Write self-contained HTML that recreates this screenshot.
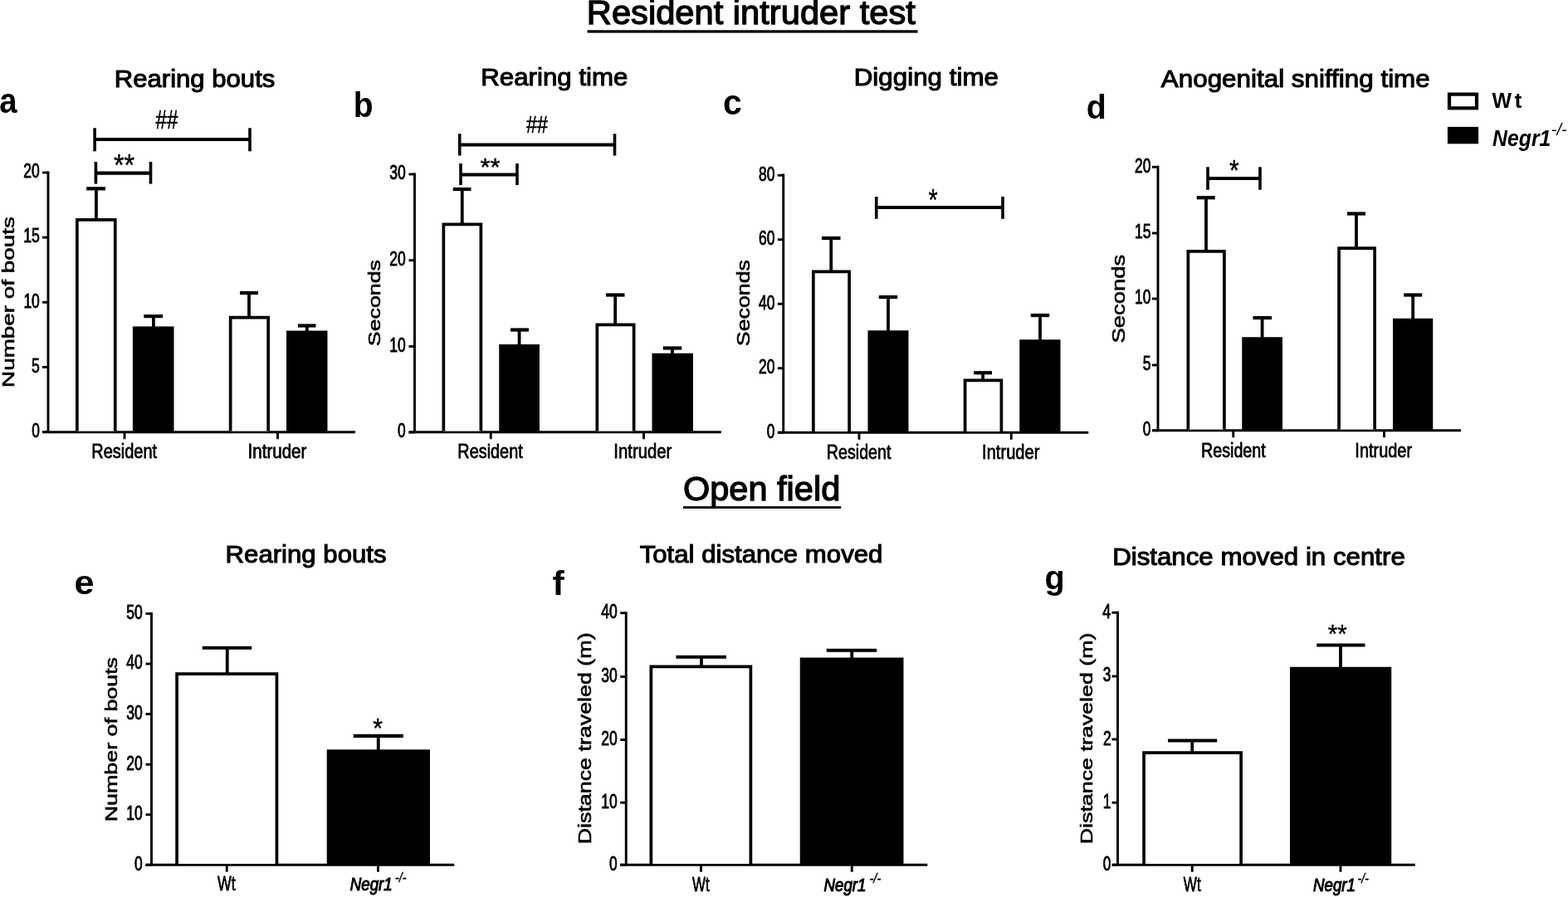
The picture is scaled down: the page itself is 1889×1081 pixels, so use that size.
<!DOCTYPE html>
<html><head><meta charset="utf-8"><title>Resident intruder test / Open field</title>
<style>
html,body{margin:0;padding:0;background:#fff;}
body{width:1889px;height:1081px;overflow:hidden;}
svg{display:block;}
text{font-family:"Liberation Sans",Arial,sans-serif;fill:#000;}
line{stroke:#000;stroke-linecap:butt;}
</style></head><body>
<svg width="1889" height="1081" viewBox="0 0 1889 1081">
<rect width="1889" height="1081" fill="#fff"/>
<text transform="translate(706.82,29.25) scale(1.0389,1)" font-size="40.12" font-weight="normal" font-style="normal" stroke="#000" stroke-width="1.3">Resident intruder test</text>
<rect x="707.60" y="36.30" width="398.00" height="3.30" fill="#000"/>
<text transform="translate(822.98,603.15) scale(1.0168,1)" font-size="40.84" font-weight="normal" font-style="normal" stroke="#000" stroke-width="1.3">Open field</text>
<rect x="822.90" y="610.10" width="190.30" height="2.80" fill="#000"/>
<text transform="translate(137.76,105.05) scale(1.0237,1)" font-size="30.38" font-weight="normal" font-style="normal" stroke="#000" stroke-width="1.1">Rearing bouts</text>
<text transform="translate(-0.65,135.67) scale(0.9006,1)" font-size="42.55" font-weight="bold" font-style="normal">a</text>
<line x1="58.00" y1="206.55" x2="58.00" y2="520.75" stroke-width="2.9"/>
<line x1="51.00" y1="208.00" x2="58.00" y2="208.00" stroke-width="2.9"/>
<text transform="translate(28.35,214.27) scale(0.7478,1)" font-size="23.38" font-weight="normal" font-style="normal" stroke="#000" stroke-width="0.9">20</text>
<line x1="51.00" y1="286.10" x2="58.00" y2="286.10" stroke-width="2.9"/>
<text transform="translate(28.19,292.36) scale(0.7472,1)" font-size="23.71" font-weight="normal" font-style="normal" stroke="#000" stroke-width="0.9">15</text>
<line x1="51.00" y1="364.30" x2="58.00" y2="364.30" stroke-width="2.9"/>
<text transform="translate(28.38,370.57) scale(0.7469,1)" font-size="23.38" font-weight="normal" font-style="normal" stroke="#000" stroke-width="0.9">10</text>
<line x1="51.00" y1="442.40" x2="58.00" y2="442.40" stroke-width="2.9"/>
<text transform="translate(38.08,448.66) scale(0.7424,1)" font-size="23.71" font-weight="normal" font-style="normal" stroke="#000" stroke-width="0.9">5</text>
<line x1="51.00" y1="520.50" x2="58.00" y2="520.50" stroke-width="2.9"/>
<text transform="translate(38.13,526.77) scale(0.7421,1)" font-size="23.38" font-weight="normal" font-style="normal" stroke="#000" stroke-width="0.9">0</text>
<line x1="51.00" y1="520.75" x2="428.00" y2="520.75" stroke-width="2.9"/>
<line x1="150.00" y1="520.75" x2="150.00" y2="529.25" stroke-width="2.9"/>
<line x1="334.50" y1="520.75" x2="334.50" y2="529.25" stroke-width="2.9"/>
<path d="M92.85,519.50V264.85H138.75V519.50" fill="#fff" stroke="#000" stroke-width="3.7" stroke-linejoin="miter"/>
<rect x="159.90" y="393.40" width="49.60" height="127.35" fill="#000"/>
<path d="M277.65,519.50V382.65H323.15V519.50" fill="#fff" stroke="#000" stroke-width="3.7" stroke-linejoin="miter"/>
<rect x="345.00" y="398.50" width="49.50" height="122.25" fill="#000"/>
<line x1="115.90" y1="264.00" x2="115.90" y2="227.30" stroke-width="3.8"/>
<line x1="104.10" y1="227.30" x2="127.00" y2="227.30" stroke-width="4.2"/>
<line x1="184.90" y1="394.40" x2="184.90" y2="381.10" stroke-width="3.8"/>
<line x1="173.30" y1="381.10" x2="196.10" y2="381.10" stroke-width="4.2"/>
<line x1="300.00" y1="381.80" x2="300.00" y2="353.00" stroke-width="3.8"/>
<line x1="289.00" y1="353.00" x2="311.00" y2="353.00" stroke-width="4.2"/>
<line x1="369.80" y1="399.50" x2="369.80" y2="392.50" stroke-width="3.8"/>
<line x1="359.00" y1="392.50" x2="380.50" y2="392.50" stroke-width="4.2"/>
<line x1="114.10" y1="168.00" x2="301.00" y2="168.00" stroke-width="4.2"/>
<line x1="114.10" y1="154.30" x2="114.10" y2="182.30" stroke-width="3.6"/>
<line x1="301.00" y1="154.30" x2="301.00" y2="182.30" stroke-width="3.6"/>
<line x1="115.40" y1="208.70" x2="181.50" y2="208.70" stroke-width="4.2"/>
<line x1="115.40" y1="195.00" x2="115.40" y2="221.60" stroke-width="3.6"/>
<line x1="181.50" y1="195.00" x2="181.50" y2="221.60" stroke-width="3.6"/>
<text transform="translate(187.53,154.75) scale(0.7784,1)" font-size="30.95" font-weight="normal" font-style="normal" stroke="#000" stroke-width="0.5">##</text>
<text transform="translate(136.91,211.83) scale(0.8759,1)" font-size="37.14" font-weight="normal" font-style="normal" stroke="#000" stroke-width="0.4">**</text>
<text transform="translate(16.80,466.93) rotate(-90) scale(1.3497,1)" font-size="20.64" font-weight="normal" font-style="normal" stroke="#000" stroke-width="0.6">Number of bouts</text>
<text transform="translate(110.20,552.40) scale(0.8300,1)" font-size="24.13" font-weight="normal" font-style="normal" stroke="#000" stroke-width="0.8">Resident</text>
<text transform="translate(298.55,552.40) scale(0.8525,1)" font-size="24.13" font-weight="normal" font-style="normal" stroke="#000" stroke-width="0.8">Intruder</text>
<text transform="translate(579.15,102.65) scale(1.0303,1)" font-size="30.38" font-weight="normal" font-style="normal" stroke="#000" stroke-width="1.1">Rearing time</text>
<text transform="translate(425.66,141.48) scale(0.9370,1)" font-size="41.63" font-weight="bold" font-style="normal">b</text>
<line x1="499.50" y1="208.55" x2="499.50" y2="520.75" stroke-width="2.9"/>
<line x1="492.50" y1="210.00" x2="499.50" y2="210.00" stroke-width="2.9"/>
<text transform="translate(469.24,216.27) scale(0.7482,1)" font-size="23.38" font-weight="normal" font-style="normal" stroke="#000" stroke-width="0.9">30</text>
<line x1="492.50" y1="313.75" x2="499.50" y2="313.75" stroke-width="2.9"/>
<text transform="translate(469.25,320.02) scale(0.7478,1)" font-size="23.38" font-weight="normal" font-style="normal" stroke="#000" stroke-width="0.9">20</text>
<line x1="492.50" y1="417.50" x2="499.50" y2="417.50" stroke-width="2.9"/>
<text transform="translate(469.28,423.77) scale(0.7469,1)" font-size="23.38" font-weight="normal" font-style="normal" stroke="#000" stroke-width="0.9">10</text>
<line x1="492.50" y1="521.00" x2="499.50" y2="521.00" stroke-width="2.9"/>
<text transform="translate(479.03,527.27) scale(0.7421,1)" font-size="23.38" font-weight="normal" font-style="normal" stroke="#000" stroke-width="0.9">0</text>
<line x1="492.50" y1="520.75" x2="868.75" y2="520.75" stroke-width="2.9"/>
<line x1="591.25" y1="520.75" x2="591.25" y2="529.25" stroke-width="2.9"/>
<line x1="775.50" y1="520.75" x2="775.50" y2="529.25" stroke-width="2.9"/>
<path d="M534.35,519.50V270.35H579.40V519.50" fill="#fff" stroke="#000" stroke-width="3.7" stroke-linejoin="miter"/>
<rect x="601.25" y="415.00" width="48.75" height="105.75" fill="#000"/>
<path d="M719.35,519.50V391.35H763.65V519.50" fill="#fff" stroke="#000" stroke-width="3.7" stroke-linejoin="miter"/>
<rect x="785.50" y="425.75" width="49.50" height="95.00" fill="#000"/>
<line x1="556.75" y1="269.50" x2="556.75" y2="228.00" stroke-width="3.8"/>
<line x1="545.75" y1="228.00" x2="567.50" y2="228.00" stroke-width="4.2"/>
<line x1="625.60" y1="416.00" x2="625.60" y2="397.50" stroke-width="3.8"/>
<line x1="615.00" y1="397.50" x2="637.00" y2="397.50" stroke-width="4.2"/>
<line x1="741.20" y1="390.50" x2="741.20" y2="355.50" stroke-width="3.8"/>
<line x1="730.00" y1="355.50" x2="752.50" y2="355.50" stroke-width="4.2"/>
<line x1="810.00" y1="426.75" x2="810.00" y2="419.50" stroke-width="3.8"/>
<line x1="798.75" y1="419.50" x2="821.25" y2="419.50" stroke-width="4.2"/>
<line x1="553.75" y1="174.50" x2="740.50" y2="174.50" stroke-width="4.2"/>
<line x1="553.75" y1="161.25" x2="553.75" y2="187.50" stroke-width="3.6"/>
<line x1="740.50" y1="161.25" x2="740.50" y2="187.50" stroke-width="3.6"/>
<line x1="555.00" y1="210.50" x2="623.00" y2="210.50" stroke-width="4.2"/>
<line x1="555.00" y1="197.00" x2="555.00" y2="223.00" stroke-width="3.6"/>
<line x1="623.00" y1="197.00" x2="623.00" y2="223.00" stroke-width="3.6"/>
<text transform="translate(633.88,160.25) scale(0.8018,1)" font-size="29.20" font-weight="normal" font-style="normal" stroke="#000" stroke-width="0.5">##</text>
<text transform="translate(578.48,211.10) scale(1.0280,1)" font-size="30.29" font-weight="normal" font-style="normal" stroke="#000" stroke-width="0.4">**</text>
<text transform="translate(457.70,417.15) rotate(-90) scale(1.2778,1)" font-size="20.93" font-weight="normal" font-style="normal" stroke="#000" stroke-width="0.6">Seconds</text>
<text transform="translate(551.31,552.10) scale(0.8235,1)" font-size="24.13" font-weight="normal" font-style="normal" stroke="#000" stroke-width="0.8">Resident</text>
<text transform="translate(739.32,552.10) scale(0.8432,1)" font-size="24.13" font-weight="normal" font-style="normal" stroke="#000" stroke-width="0.8">Intruder</text>
<text transform="translate(1028.74,102.65) scale(1.0318,1)" font-size="30.38" font-weight="normal" font-style="normal" stroke="#000" stroke-width="1.1">Digging time</text>
<text transform="translate(871.06,137.77) scale(0.9644,1)" font-size="42.55" font-weight="bold" font-style="normal">c</text>
<line x1="943.75" y1="209.55" x2="943.75" y2="521.25" stroke-width="2.9"/>
<line x1="936.75" y1="211.25" x2="943.75" y2="211.25" stroke-width="2.9"/>
<text transform="translate(913.95,217.52) scale(0.7480,1)" font-size="23.38" font-weight="normal" font-style="normal" stroke="#000" stroke-width="0.9">80</text>
<line x1="936.75" y1="288.75" x2="943.75" y2="288.75" stroke-width="2.9"/>
<text transform="translate(913.95,295.02) scale(0.7478,1)" font-size="23.38" font-weight="normal" font-style="normal" stroke="#000" stroke-width="0.9">60</text>
<line x1="936.75" y1="366.25" x2="943.75" y2="366.25" stroke-width="2.9"/>
<text transform="translate(913.93,372.52) scale(0.7489,1)" font-size="23.38" font-weight="normal" font-style="normal" stroke="#000" stroke-width="0.9">40</text>
<line x1="936.75" y1="443.75" x2="943.75" y2="443.75" stroke-width="2.9"/>
<text transform="translate(913.95,450.02) scale(0.7478,1)" font-size="23.38" font-weight="normal" font-style="normal" stroke="#000" stroke-width="0.9">20</text>
<line x1="936.75" y1="521.25" x2="943.75" y2="521.25" stroke-width="2.9"/>
<text transform="translate(923.73,527.52) scale(0.7421,1)" font-size="23.38" font-weight="normal" font-style="normal" stroke="#000" stroke-width="0.9">0</text>
<line x1="937.00" y1="521.25" x2="1311.25" y2="521.25" stroke-width="2.9"/>
<line x1="1035.00" y1="521.25" x2="1035.00" y2="529.75" stroke-width="2.9"/>
<line x1="1218.25" y1="521.25" x2="1218.25" y2="529.75" stroke-width="2.9"/>
<path d="M979.85,520.00V327.35H1023.15V520.00" fill="#fff" stroke="#000" stroke-width="3.7" stroke-linejoin="miter"/>
<rect x="1045.50" y="398.25" width="49.00" height="123.00" fill="#000"/>
<path d="M1162.60,520.00V458.35H1206.40V520.00" fill="#fff" stroke="#000" stroke-width="3.7" stroke-linejoin="miter"/>
<rect x="1228.25" y="409.25" width="49.25" height="112.00" fill="#000"/>
<line x1="1001.25" y1="326.50" x2="1001.25" y2="287.00" stroke-width="3.8"/>
<line x1="990.00" y1="287.00" x2="1012.50" y2="287.00" stroke-width="4.2"/>
<line x1="1070.00" y1="399.25" x2="1070.00" y2="358.00" stroke-width="3.8"/>
<line x1="1058.75" y1="358.00" x2="1081.25" y2="358.00" stroke-width="4.2"/>
<line x1="1184.10" y1="457.50" x2="1184.10" y2="449.25" stroke-width="3.8"/>
<line x1="1173.25" y1="449.25" x2="1195.00" y2="449.25" stroke-width="4.2"/>
<line x1="1253.00" y1="410.25" x2="1253.00" y2="380.00" stroke-width="3.8"/>
<line x1="1241.75" y1="380.00" x2="1264.25" y2="380.00" stroke-width="4.2"/>
<line x1="1055.75" y1="250.00" x2="1208.00" y2="250.00" stroke-width="4.2"/>
<line x1="1055.75" y1="237.00" x2="1055.75" y2="263.75" stroke-width="3.6"/>
<line x1="1208.00" y1="237.00" x2="1208.00" y2="263.75" stroke-width="3.6"/>
<text transform="translate(1118.52,254.28) scale(0.7831,1)" font-size="36.71" font-weight="normal" font-style="normal" stroke="#000" stroke-width="0.4">*</text>
<text transform="translate(903.45,417.15) rotate(-90) scale(1.2350,1)" font-size="21.66" font-weight="normal" font-style="normal" stroke="#000" stroke-width="0.6">Seconds</text>
<text transform="translate(995.83,552.60) scale(0.8155,1)" font-size="24.13" font-weight="normal" font-style="normal" stroke="#000" stroke-width="0.8">Resident</text>
<text transform="translate(1183.09,552.60) scale(0.8339,1)" font-size="24.13" font-weight="normal" font-style="normal" stroke="#000" stroke-width="0.8">Intruder</text>
<text transform="translate(1398.80,105.35) scale(1.0337,1)" font-size="30.38" font-weight="normal" font-style="normal" stroke="#000" stroke-width="1.1">Anogenital sniffing time</text>
<text transform="translate(1308.82,142.79) scale(0.9591,1)" font-size="41.09" font-weight="bold" font-style="normal">d</text>
<line x1="1395.00" y1="199.80" x2="1395.00" y2="518.75" stroke-width="2.9"/>
<line x1="1388.00" y1="201.25" x2="1395.00" y2="201.25" stroke-width="2.9"/>
<text transform="translate(1367.05,207.52) scale(0.7478,1)" font-size="23.38" font-weight="normal" font-style="normal" stroke="#000" stroke-width="0.9">20</text>
<line x1="1388.00" y1="281.00" x2="1395.00" y2="281.00" stroke-width="2.9"/>
<text transform="translate(1366.89,287.26) scale(0.7472,1)" font-size="23.71" font-weight="normal" font-style="normal" stroke="#000" stroke-width="0.9">15</text>
<line x1="1388.00" y1="360.00" x2="1395.00" y2="360.00" stroke-width="2.9"/>
<text transform="translate(1367.08,366.27) scale(0.7469,1)" font-size="23.38" font-weight="normal" font-style="normal" stroke="#000" stroke-width="0.9">10</text>
<line x1="1388.00" y1="440.00" x2="1395.00" y2="440.00" stroke-width="2.9"/>
<text transform="translate(1376.78,446.26) scale(0.7424,1)" font-size="23.71" font-weight="normal" font-style="normal" stroke="#000" stroke-width="0.9">5</text>
<line x1="1388.00" y1="518.75" x2="1395.00" y2="518.75" stroke-width="2.9"/>
<text transform="translate(1376.83,525.02) scale(0.7421,1)" font-size="23.38" font-weight="normal" font-style="normal" stroke="#000" stroke-width="0.9">0</text>
<line x1="1388.75" y1="518.75" x2="1760.00" y2="518.75" stroke-width="2.9"/>
<line x1="1485.75" y1="518.75" x2="1485.75" y2="527.25" stroke-width="2.9"/>
<line x1="1667.50" y1="518.75" x2="1667.50" y2="527.25" stroke-width="2.9"/>
<path d="M1431.35,517.50V302.85H1474.90V517.50" fill="#fff" stroke="#000" stroke-width="3.7" stroke-linejoin="miter"/>
<rect x="1496.25" y="406.25" width="48.75" height="112.50" fill="#000"/>
<path d="M1613.10,517.50V299.10H1656.15V517.50" fill="#fff" stroke="#000" stroke-width="3.7" stroke-linejoin="miter"/>
<rect x="1678.00" y="383.75" width="48.25" height="135.00" fill="#000"/>
<line x1="1453.00" y1="302.00" x2="1453.00" y2="238.25" stroke-width="3.8"/>
<line x1="1441.75" y1="238.25" x2="1463.75" y2="238.25" stroke-width="4.2"/>
<line x1="1520.60" y1="407.25" x2="1520.60" y2="383.00" stroke-width="3.8"/>
<line x1="1509.50" y1="383.00" x2="1532.00" y2="383.00" stroke-width="4.2"/>
<line x1="1634.00" y1="298.25" x2="1634.00" y2="257.50" stroke-width="3.8"/>
<line x1="1623.00" y1="257.50" x2="1645.00" y2="257.50" stroke-width="4.2"/>
<line x1="1702.20" y1="384.75" x2="1702.20" y2="355.50" stroke-width="3.8"/>
<line x1="1691.25" y1="355.50" x2="1713.25" y2="355.50" stroke-width="4.2"/>
<line x1="1455.00" y1="215.00" x2="1518.00" y2="215.00" stroke-width="4.2"/>
<line x1="1455.00" y1="201.25" x2="1455.00" y2="228.75" stroke-width="3.6"/>
<line x1="1518.00" y1="201.25" x2="1518.00" y2="228.75" stroke-width="3.6"/>
<text transform="translate(1481.00,217.04) scale(0.8372,1)" font-size="36.00" font-weight="normal" font-style="normal" stroke="#000" stroke-width="0.4">*</text>
<text transform="translate(1355.20,413.43) rotate(-90) scale(1.2653,1)" font-size="21.66" font-weight="normal" font-style="normal" stroke="#000" stroke-width="0.6">Seconds</text>
<text transform="translate(1447.08,550.85) scale(0.8155,1)" font-size="24.13" font-weight="normal" font-style="normal" stroke="#000" stroke-width="0.8">Resident</text>
<text transform="translate(1632.35,550.85) scale(0.8277,1)" font-size="24.13" font-weight="normal" font-style="normal" stroke="#000" stroke-width="0.8">Intruder</text>
<rect x="1746.0" y="113.6" width="33.0" height="16.7" fill="#fff" stroke="#000" stroke-width="4.2"/>
<rect x="1743.90" y="152.90" width="37.20" height="20.40" fill="#000"/>
<text transform="translate(1797.50,129.80) scale(0.9389,1)" font-size="26.60" font-weight="bold" font-style="normal">W</text>
<text transform="translate(1824.53,129.80) scale(1.0066,1)" font-size="26.60" font-weight="bold" font-style="normal">t</text>
<text transform="translate(1798.00,175.60) scale(0.8893,1)" font-size="27.91" font-weight="bold" font-style="italic">Negr1</text>
<text transform="translate(1868.69,162.90) scale(1.0047,1)" font-size="20.14" font-weight="normal" font-style="italic">-/-</text>
<text transform="translate(271.56,678.45) scale(1.0258,1)" font-size="30.38" font-weight="normal" font-style="normal" stroke="#000" stroke-width="1.1">Rearing bouts</text>
<text transform="translate(89.52,715.84) scale(1.0567,1)" font-size="40.91" font-weight="bold" font-style="normal">e</text>
<line x1="182.50" y1="738.05" x2="182.50" y2="1042.25" stroke-width="2.9"/>
<line x1="175.50" y1="739.50" x2="182.50" y2="739.50" stroke-width="2.9"/>
<text transform="translate(152.24,745.77) scale(0.7482,1)" font-size="23.38" font-weight="normal" font-style="normal" stroke="#000" stroke-width="0.9">50</text>
<line x1="175.50" y1="800.00" x2="182.50" y2="800.00" stroke-width="2.9"/>
<text transform="translate(152.23,806.27) scale(0.7489,1)" font-size="23.38" font-weight="normal" font-style="normal" stroke="#000" stroke-width="0.9">40</text>
<line x1="175.50" y1="860.50" x2="182.50" y2="860.50" stroke-width="2.9"/>
<text transform="translate(152.24,866.77) scale(0.7482,1)" font-size="23.38" font-weight="normal" font-style="normal" stroke="#000" stroke-width="0.9">30</text>
<line x1="175.50" y1="921.25" x2="182.50" y2="921.25" stroke-width="2.9"/>
<text transform="translate(152.25,927.52) scale(0.7478,1)" font-size="23.38" font-weight="normal" font-style="normal" stroke="#000" stroke-width="0.9">20</text>
<line x1="175.50" y1="981.75" x2="182.50" y2="981.75" stroke-width="2.9"/>
<text transform="translate(152.28,988.02) scale(0.7469,1)" font-size="23.38" font-weight="normal" font-style="normal" stroke="#000" stroke-width="0.9">10</text>
<line x1="175.50" y1="1042.25" x2="182.50" y2="1042.25" stroke-width="2.9"/>
<text transform="translate(162.03,1048.52) scale(0.7421,1)" font-size="23.38" font-weight="normal" font-style="normal" stroke="#000" stroke-width="0.9">0</text>
<line x1="175.50" y1="1042.25" x2="547.20" y2="1042.25" stroke-width="2.9"/>
<line x1="273.25" y1="1042.25" x2="273.25" y2="1050.75" stroke-width="2.9"/>
<line x1="455.50" y1="1042.25" x2="455.50" y2="1050.75" stroke-width="2.9"/>
<path d="M213.10,1041.00V812.05H333.45V1041.00" fill="#fff" stroke="#000" stroke-width="3.7" stroke-linejoin="miter"/>
<rect x="393.75" y="903.30" width="124.25" height="138.95" fill="#000"/>
<line x1="273.75" y1="811.20" x2="273.75" y2="780.75" stroke-width="3.8"/>
<line x1="243.75" y1="780.75" x2="303.25" y2="780.75" stroke-width="4.2"/>
<line x1="455.75" y1="904.30" x2="455.75" y2="886.90" stroke-width="3.8"/>
<line x1="425.75" y1="886.90" x2="485.75" y2="886.90" stroke-width="4.2"/>
<text transform="translate(449.25,888.56) scale(0.8864,1)" font-size="34.00" font-weight="normal" font-style="normal" stroke="#000" stroke-width="0.4">*</text>
<text transform="translate(262.01,1072.90) scale(0.7640,1)" font-size="23.26" font-weight="normal" font-style="normal" stroke="#000" stroke-width="0.8">Wt</text>
<text transform="translate(421.69,1072.75) scale(0.8316,1)" font-size="22.53" font-weight="normal" font-style="italic" stroke="#000" stroke-width="1.1">Negr1</text>
<text transform="translate(475.99,1062.54) scale(0.8878,1)" font-size="16.05" font-weight="normal" font-style="italic" stroke="#000" stroke-width="0.4">-/-</text>
<text transform="translate(140.95,990.35) rotate(-90) scale(1.3004,1)" font-size="20.64" font-weight="normal" font-style="normal" stroke="#000" stroke-width="0.6">Number of bouts</text>
<text transform="translate(770.68,678.45) scale(1.0259,1)" font-size="30.38" font-weight="normal" font-style="normal" stroke="#000" stroke-width="1.1">Total distance moved</text>
<text transform="translate(665.61,717.00) scale(1.0384,1)" font-size="41.38" font-weight="bold" font-style="normal">f</text>
<line x1="754.25" y1="737.30" x2="754.25" y2="1042.25" stroke-width="2.9"/>
<line x1="747.25" y1="738.75" x2="754.25" y2="738.75" stroke-width="2.9"/>
<text transform="translate(724.23,745.02) scale(0.7489,1)" font-size="23.38" font-weight="normal" font-style="normal" stroke="#000" stroke-width="0.9">40</text>
<line x1="747.25" y1="815.50" x2="754.25" y2="815.50" stroke-width="2.9"/>
<text transform="translate(724.24,821.77) scale(0.7482,1)" font-size="23.38" font-weight="normal" font-style="normal" stroke="#000" stroke-width="0.9">30</text>
<line x1="747.25" y1="891.50" x2="754.25" y2="891.50" stroke-width="2.9"/>
<text transform="translate(724.25,897.77) scale(0.7478,1)" font-size="23.38" font-weight="normal" font-style="normal" stroke="#000" stroke-width="0.9">20</text>
<line x1="747.25" y1="967.25" x2="754.25" y2="967.25" stroke-width="2.9"/>
<text transform="translate(724.28,973.52) scale(0.7469,1)" font-size="23.38" font-weight="normal" font-style="normal" stroke="#000" stroke-width="0.9">10</text>
<line x1="747.25" y1="1042.25" x2="754.25" y2="1042.25" stroke-width="2.9"/>
<text transform="translate(734.03,1048.52) scale(0.7421,1)" font-size="23.38" font-weight="normal" font-style="normal" stroke="#000" stroke-width="0.9">0</text>
<line x1="747.00" y1="1042.25" x2="1117.30" y2="1042.25" stroke-width="2.9"/>
<line x1="844.50" y1="1042.25" x2="844.50" y2="1050.75" stroke-width="2.9"/>
<line x1="1026.25" y1="1042.25" x2="1026.25" y2="1050.75" stroke-width="2.9"/>
<path d="M784.35,1041.00V803.35H904.40V1041.00" fill="#fff" stroke="#000" stroke-width="3.7" stroke-linejoin="miter"/>
<rect x="963.75" y="792.50" width="124.75" height="249.75" fill="#000"/>
<line x1="845.00" y1="802.50" x2="845.00" y2="791.75" stroke-width="3.8"/>
<line x1="814.50" y1="791.75" x2="875.00" y2="791.75" stroke-width="4.2"/>
<line x1="1026.25" y1="793.50" x2="1026.25" y2="783.75" stroke-width="3.8"/>
<line x1="995.75" y1="783.75" x2="1056.25" y2="783.75" stroke-width="4.2"/>
<text transform="translate(834.07,1074.35) scale(0.7267,1)" font-size="23.26" font-weight="normal" font-style="normal" stroke="#000" stroke-width="0.8">Wt</text>
<text transform="translate(992.49,1074.05) scale(0.8316,1)" font-size="22.53" font-weight="normal" font-style="italic" stroke="#000" stroke-width="1.1">Negr1</text>
<text transform="translate(1047.46,1063.84) scale(0.9200,1)" font-size="16.05" font-weight="normal" font-style="italic" stroke="#000" stroke-width="0.4">-/-</text>
<text transform="translate(712.20,1017.35) rotate(-90) scale(1.2390,1)" font-size="21.66" font-weight="normal" font-style="normal" stroke="#000" stroke-width="0.6">Distance traveled (m)</text>
<text transform="translate(1340.15,680.85) scale(1.0293,1)" font-size="30.38" font-weight="normal" font-style="normal" stroke="#000" stroke-width="1.1">Distance moved in centre</text>
<text transform="translate(1258.42,710.35) scale(0.9901,1)" font-size="40.00" font-weight="bold" font-style="normal">g</text>
<line x1="1346.50" y1="736.80" x2="1346.50" y2="1042.25" stroke-width="2.9"/>
<line x1="1339.50" y1="738.25" x2="1346.50" y2="738.25" stroke-width="2.9"/>
<text transform="translate(1328.30,744.75) scale(0.7482,1)" font-size="24.06" font-weight="normal" font-style="normal" stroke="#000" stroke-width="0.9">4</text>
<line x1="1339.50" y1="815.00" x2="1346.50" y2="815.00" stroke-width="2.9"/>
<text transform="translate(1328.82,821.27) scale(0.7412,1)" font-size="23.38" font-weight="normal" font-style="normal" stroke="#000" stroke-width="0.9">3</text>
<line x1="1339.50" y1="891.00" x2="1346.50" y2="891.00" stroke-width="2.9"/>
<text transform="translate(1328.90,897.50) scale(0.7389,1)" font-size="23.71" font-weight="normal" font-style="normal" stroke="#000" stroke-width="0.9">2</text>
<line x1="1339.50" y1="967.25" x2="1346.50" y2="967.25" stroke-width="2.9"/>
<text transform="translate(1328.72,973.75) scale(0.7363,1)" font-size="24.06" font-weight="normal" font-style="normal" stroke="#000" stroke-width="0.9">1</text>
<line x1="1339.50" y1="1042.25" x2="1346.50" y2="1042.25" stroke-width="2.9"/>
<text transform="translate(1328.73,1048.52) scale(0.7421,1)" font-size="23.38" font-weight="normal" font-style="normal" stroke="#000" stroke-width="0.9">0</text>
<line x1="1340.00" y1="1042.25" x2="1704.75" y2="1042.25" stroke-width="2.9"/>
<line x1="1436.25" y1="1042.25" x2="1436.25" y2="1050.75" stroke-width="2.9"/>
<line x1="1615.00" y1="1042.25" x2="1615.00" y2="1050.75" stroke-width="2.9"/>
<path d="M1378.10,1041.00V907.15H1495.15V1041.00" fill="#fff" stroke="#000" stroke-width="3.7" stroke-linejoin="miter"/>
<rect x="1554.00" y="803.75" width="122.25" height="238.50" fill="#000"/>
<line x1="1436.25" y1="906.30" x2="1436.25" y2="892.50" stroke-width="3.8"/>
<line x1="1407.00" y1="892.50" x2="1466.25" y2="892.50" stroke-width="4.2"/>
<line x1="1615.00" y1="804.75" x2="1615.00" y2="777.50" stroke-width="3.8"/>
<line x1="1586.25" y1="777.50" x2="1644.50" y2="777.50" stroke-width="4.2"/>
<text transform="translate(1599.76,775.34) scale(0.9505,1)" font-size="31.00" font-weight="normal" font-style="normal" stroke="#000" stroke-width="0.4">**</text>
<text transform="translate(1425.81,1074.35) scale(0.7356,1)" font-size="23.26" font-weight="normal" font-style="normal" stroke="#000" stroke-width="0.8">Wt</text>
<text transform="translate(1581.99,1074.05) scale(0.8316,1)" font-size="22.53" font-weight="normal" font-style="italic" stroke="#000" stroke-width="1.1">Negr1</text>
<text transform="translate(1635.49,1063.84) scale(0.8842,1)" font-size="16.05" font-weight="normal" font-style="italic" stroke="#000" stroke-width="0.4">-/-</text>
<text transform="translate(1315.95,1017.35) rotate(-90) scale(1.2820,1)" font-size="20.93" font-weight="normal" font-style="normal" stroke="#000" stroke-width="0.6">Distance traveled (m)</text>
</svg>
</body></html>
